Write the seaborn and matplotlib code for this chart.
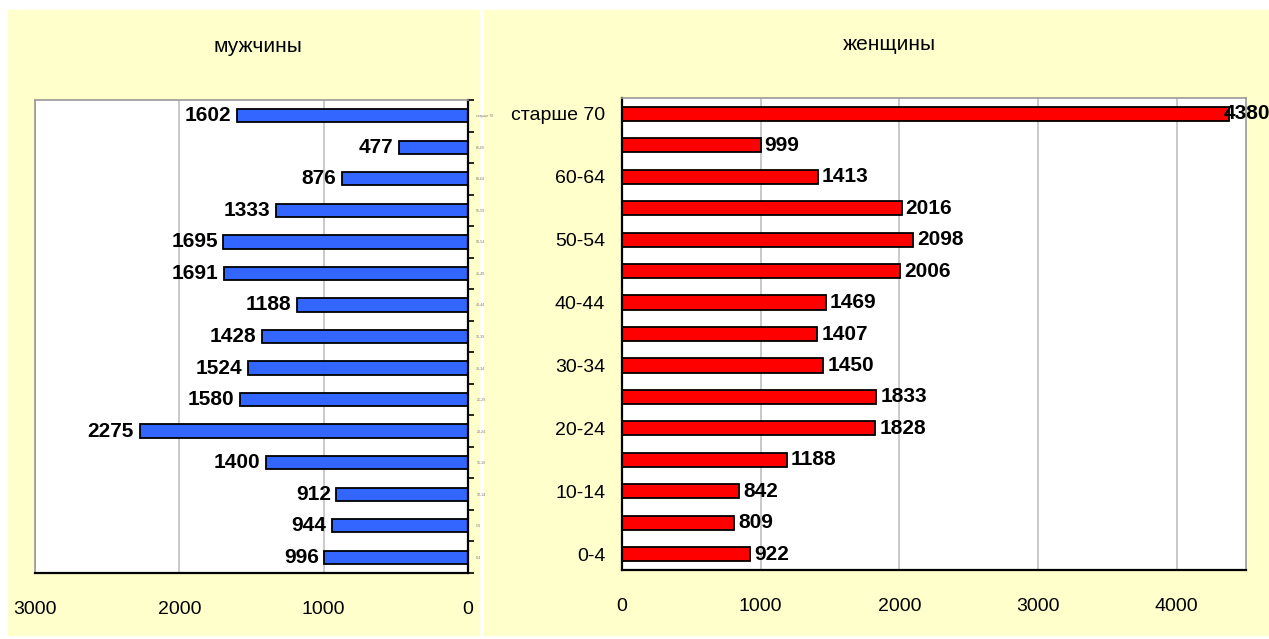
import numpy as np
import matplotlib
matplotlib.use('Agg')
import matplotlib.pyplot as plt
from matplotlib.patches import Rectangle
import seaborn as sns

# age groups, top to bottom
ages = ['старше 70', '65-69', '60-64', '55-59', '50-54', '45-49', '40-44', '35-39',
        '30-34', '25-29', '20-24', '15-19', '10-14', '5-9', '0-4']
men = [1602, 477, 876, 1333, 1695, 1691, 1188, 1428, 1524, 1580, 2275, 1400, 912, 944, 996]
women = [4380, 999, 1413, 2016, 2098, 2006, 1469, 1407, 1450, 1833, 1828, 1188, 842, 809, 922]
men_ticks = [0, 1000, 2000, 3000]
women_ticks = [0, 1000, 2000, 3000, 4000]

sns.set_style('white')
plt.rcParams['font.family'] = ['Liberation Sans', 'DejaVu Sans']
plt.rcParams['text.color'] = 'black'
plt.rcParams['xtick.color'] = 'black'
plt.rcParams['ytick.color'] = 'black'
plt.rcParams['axes.labelcolor'] = 'black'

fig = plt.figure(figsize=(12.69, 6.39), dpi=100)
fig.patch.set_facecolor('white')
yellow = '#FFFFCC'
fig.patches.append(Rectangle((8 / 1269, 4 / 639), 471 / 1269, 625 / 639,
                             transform=fig.transFigure, color=yellow, zorder=-10))
fig.patches.append(Rectangle((484 / 1269, 4 / 639), 785 / 1269, 625 / 639,
                             transform=fig.transFigure, color=yellow, zorder=-10))

ax1 = fig.add_axes([35 / 1269, 1 - 573 / 639, 433 / 1269, 473 / 639])
ax2 = fig.add_axes([622 / 1269, 1 - 570 / 639, 624 / 1269, 472 / 639])

sns.barplot(x=men, y=ages, order=ages, orient='h', color='#3366FF', saturation=1,
            edgecolor='black', linewidth=1.3, width=0.42, ax=ax1)
sns.barplot(x=women, y=ages, order=ages, orient='h', color='#FF0000', saturation=1,
            edgecolor='black', linewidth=1.3, width=0.45, ax=ax2)

for ax in (ax1, ax2):
    ax.set_facecolor('white')
    ax.set_xlabel('')
    ax.set_ylabel('')
    ax.set_ylim(len(ages) - 0.5, -0.5)
    ax.grid(axis='x', color='#C0C0C0', linewidth=1.2)
    ax.set_axisbelow(True)
    ax.set_yticks(np.arange(-0.5, len(ages), 1), minor=True)
    ax.tick_params(axis='y', which='major', length=0)
    ax.tick_params(axis='y', which='minor', length=4, width=1.2, color='black')
    ax.tick_params(axis='x', length=5, width=1.2, color='black', pad=15, labelsize=14)

# men: inverted axis, categories on the right
ax1.set_xlim(3000, 0)
ax1.set_xticks(men_ticks)
ax1.yaxis.tick_right()
ax1.yaxis.set_ticks_position('right')
ax1.set_yticks(range(len(ages)))
ax1.set_yticklabels(ages, fontsize=2.5, color='#777777')
ax1.tick_params(axis='y', which='major', pad=6)
for side in ('left', 'top'):
    ax1.spines[side].set_color('#999999')
    ax1.spines[side].set_linewidth(1.2)
for side in ('right', 'bottom'):
    ax1.spines[side].set_color('black')
    ax1.spines[side].set_linewidth(1.6)
for i, v in enumerate(men):
    ax1.annotate(str(v), xy=(v, i), xytext=(-4, 0), textcoords='offset points',
                 ha='right', va='center', fontsize=15, fontweight='bold')

# women
ax2.set_xlim(0, 4500)
ax2.set_xticks(women_ticks)
ax2.set_yticks(range(len(ages)))
ax2.set_yticklabels([a if i % 2 == 0 else '' for i, a in enumerate(ages)], fontsize=14)
ax2.tick_params(axis='y', which='major', pad=12)
for side in ('right', 'top'):
    ax2.spines[side].set_color('#999999')
    ax2.spines[side].set_linewidth(1.2)
for side in ('left', 'bottom'):
    ax2.spines[side].set_color('black')
    ax2.spines[side].set_linewidth(1.6)
xmax = ax2.get_xlim()[1]
for i, v in enumerate(women):
    off = 3 if v < 0.95 * xmax else -4
    ax2.annotate(str(v), xy=(v, i), xytext=(off, 0), textcoords='offset points',
                 ha='left', va='center', fontsize=15, fontweight='bold', annotation_clip=False)

fig.text(258 / 1269, 1 - 47 / 639, 'мужчины', ha='center', va='center', fontsize=15)
fig.text(889 / 1269, 1 - 45 / 639, 'женщины', ha='center', va='center', fontsize=15)

fig.savefig('out.png', dpi=100, facecolor='white')
